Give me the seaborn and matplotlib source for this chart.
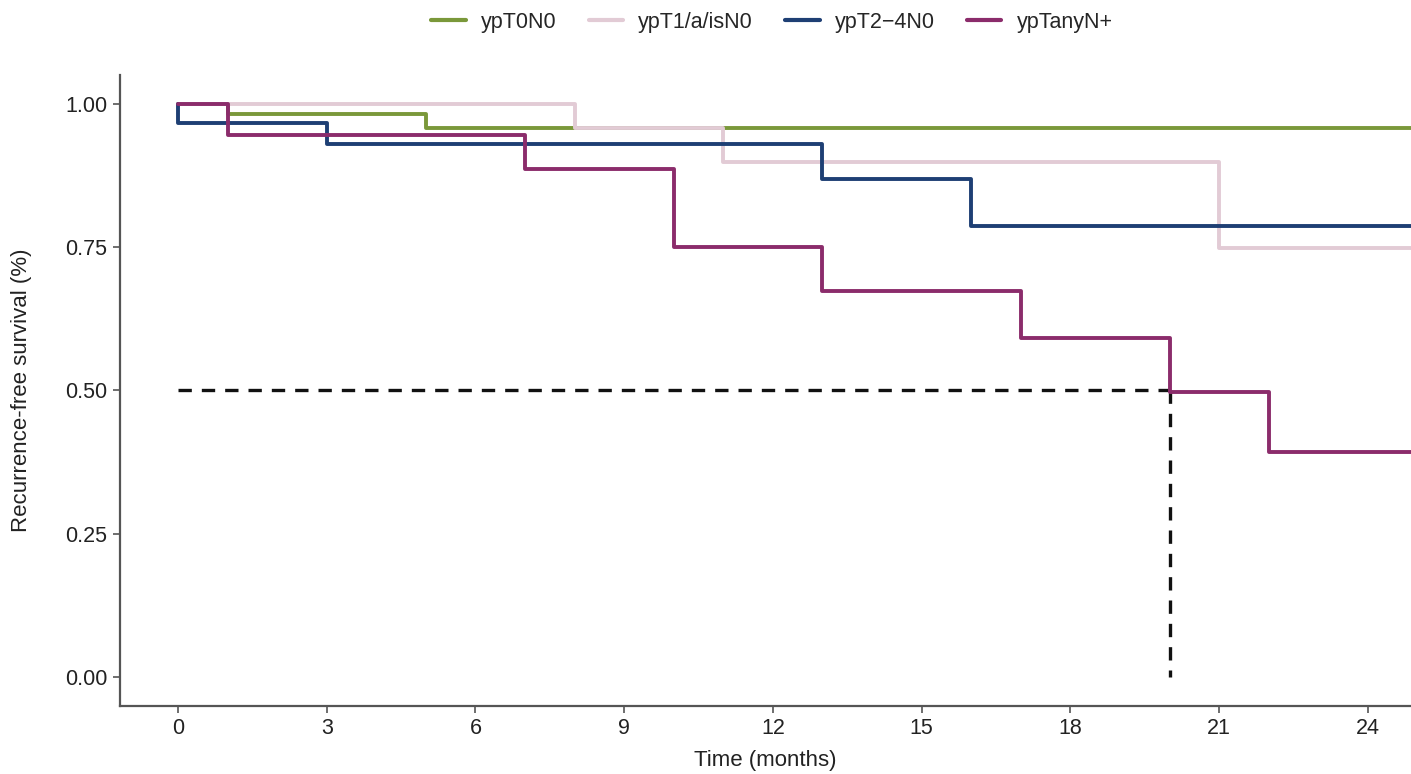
import matplotlib
matplotlib.use("Agg")
import matplotlib.pyplot as plt
import seaborn as sns
import pandas as pd
from matplotlib.lines import Line2D

groups = ["ypT0N0", "ypT1/a/isN0", "ypT2\u22124N0", "ypTanyN+"]
colors = ["#7a983a", "#e2cbd5", "#1e3f74", "#8b2c6b"]

t_t0n0 = [0, 1, 5, 25]
s_t0n0 = [1.0, 0.982, 0.958, 0.958]
t_t1n0 = [0, 8, 11, 21, 25]
s_t1n0 = [1.0, 0.958, 0.899, 0.749, 0.749]
t_t24n0 = [0, 0, 3, 13, 16, 25]
s_t24n0 = [1.0, 0.966, 0.930, 0.868, 0.787, 0.787]
t_tany = [0, 1, 7, 10, 13, 17, 20, 22, 25]
s_tany = [1.0, 0.946, 0.887, 0.751, 0.674, 0.591, 0.497, 0.392, 0.392]

median_time = 20
x_ticks = [0, 3, 6, 9, 12, 15, 18, 21, 24]
y_ticks = [0.0, 0.25, 0.5, 0.75, 1.0]
y_ticklabels = ["0.00", "0.25", "0.50", "0.75", "1.00"]

rows = []
for g, ts, ss in zip(groups, [t_t0n0, t_t1n0, t_t24n0, t_tany],
                     [s_t0n0, s_t1n0, s_t24n0, s_tany]):
    for i, (t, s) in enumerate(zip(ts, ss)):
        rows.append({"time": t, "surv": s, "group": g, "order": i})
df = pd.DataFrame(rows)

sns.set_style("ticks")
plt.rcParams["font.family"] = ["Liberation Sans", "DejaVu Sans"]

fig = plt.figure(figsize=(14.11, 7.74), dpi=100)
ax = fig.add_axes([0.085, 0.088, 0.915, 0.815])

# median reference lines
ax.plot([0, median_time], [0.5, 0.5], color="#111111", lw=2.4, ls=(0, (4, 3)), zorder=1)
ax.plot([median_time, median_time], [0.5, 0.0], color="#111111", lw=2.4, ls=(0, (4, 3)), zorder=1)

sns.lineplot(data=df, x="time", y="surv", hue="group", hue_order=groups,
             palette=dict(zip(groups, colors)), drawstyle="steps-post",
             estimator=None, sort=False, units="group", lw=2.8, ax=ax, legend=False)

ax.set_xlim(-1.17, 24.87)
ax.set_ylim(-0.05, 1.05)
ax.set_xticks(x_ticks)
ax.set_xticklabels([str(x) for x in x_ticks])
ax.set_yticks(y_ticks)
ax.set_yticklabels(y_ticklabels)
ax.tick_params(axis="both", labelsize=15.5, length=5, width=1.2, color="#555555",
               labelcolor="#222222", pad=4)
ax.set_xlabel("Time (months)", fontsize=16, color="#222222", labelpad=8)
ax.set_ylabel("Recurrence-free survival (%)", fontsize=16, color="#222222", labelpad=24)
for side in ["top", "right"]:
    ax.spines[side].set_visible(False)
for side in ["left", "bottom"]:
    ax.spines[side].set_linewidth(1.6)
    ax.spines[side].set_color("#555555")

handles = [Line2D([0], [0], color=c, lw=3) for c in colors]
fig.legend(handles, groups, loc="upper center", bbox_to_anchor=(0.547, 1.01), ncol=4,
           frameon=False, fontsize=15.5, handlelength=1.6, columnspacing=1.5, handletextpad=0.7)

fig.savefig("out.png", dpi=100)
